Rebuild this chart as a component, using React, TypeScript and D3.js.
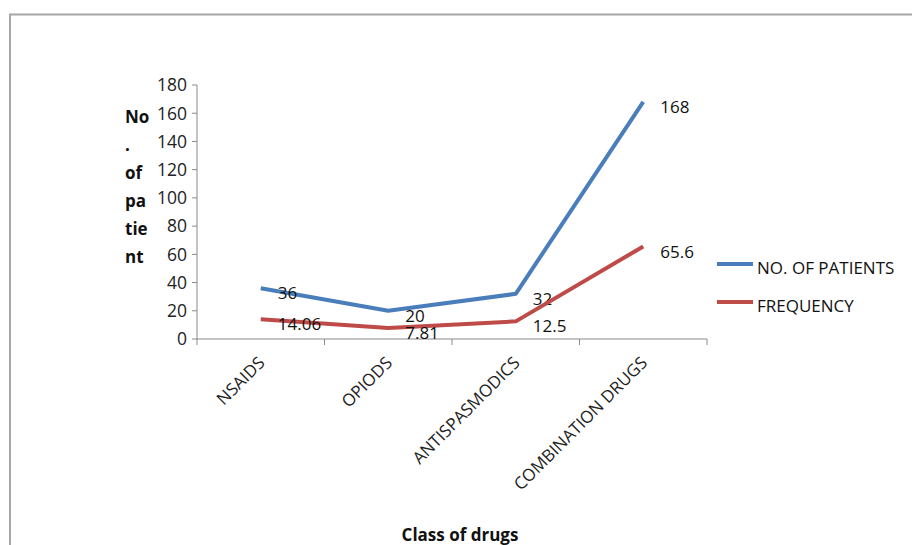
import React, { useEffect, useRef } from "react";
import * as d3 from "d3";

const categories = ["NSAIDS", "OPIODS", "ANTISPASMODICS", "COMBINATION DRUGS"];
const patients = [36, 20, 32, 168];
const frequency = [14.06, 7.81, 12.5, 65.6];
const patientLabels = ["36", "20", "32", "168"];
const frequencyLabels = ["14.06", "7.81", "12.5", "65.6"];
const yTicks = [0, 20, 40, 60, 80, 100, 120, 140, 160, 180];
const seriesNames = ["NO. OF PATIENTS", "FREQUENCY"];
const yTitleLines = ["No", ".", "of", "pa", "tie", "nt"];

const W = 912;
const H = 545;
const FONT = "'Open Sans', Lato, sans-serif";
const BLUE = "#4a7ebb";
const RED = "#be4b48";
const AXIS = "#898989";

export default function App() {
  const ref = useRef<SVGSVGElement>(null);

  useEffect(() => {
    const svg = d3.select(ref.current);
    svg.selectAll("*").remove();

    const x0 = 197, x1 = 707, yTop = 85, yBot = 339;
    const x = d3.scaleBand<string>().domain(categories).range([x0, x1]);
    const y = d3.scaleLinear().domain([0, 180]).range([yBot, yTop]);
    const cx = (c: string) => (x(c) as number) + x.bandwidth() / 2;

    // outer frame (top and left edges)
    svg.append("path")
      .attr("d", `M10,${H} L10,14.5 L${W},14.5`)
      .attr("fill", "none")
      .attr("stroke", "#a6a6a6")
      .attr("stroke-width", 2);

    // y axis
    const yAxis = svg.append("g");
    yAxis.append("line")
      .attr("x1", x0).attr("x2", x0).attr("y1", yTop).attr("y2", yBot)
      .attr("stroke", AXIS).attr("stroke-width", 1);
    yTicks.forEach((t) => {
      yAxis.append("line")
        .attr("x1", x0 - 5).attr("x2", x0).attr("y1", y(t)).attr("y2", y(t))
        .attr("stroke", AXIS);
      yAxis.append("text")
        .attr("x", x0 - 10).attr("y", y(t)).attr("dy", "0.36em")
        .attr("text-anchor", "end")
        .attr("font-family", FONT).attr("font-size", 17.5).attr("fill", "#222")
        .text(String(t));
    });

    // x axis
    const xAxis = svg.append("g");
    xAxis.append("line")
      .attr("x1", x0).attr("x2", x1).attr("y1", yBot).attr("y2", yBot)
      .attr("stroke", AXIS);
    const edges = categories.map((c) => x(c) as number).concat([x1]);
    edges.forEach((e) => {
      xAxis.append("line")
        .attr("x1", e).attr("x2", e).attr("y1", yBot).attr("y2", yBot + 6)
        .attr("stroke", AXIS);
    });
    categories.forEach((c) => {
      xAxis.append("text")
        .attr("transform", `translate(${cx(c) + 5},${yBot + 25}) rotate(-45)`)
        .attr("text-anchor", "end")
        .attr("font-family", FONT).attr("font-size", 17).attr("fill", "#222")
        .text(c);
    });

    // series lines
    const line = d3.line<number>()
      .x((_, i) => cx(categories[i]))
      .y((d) => y(d));
    [
      { data: patients, color: BLUE, labels: patientLabels },
      { data: frequency, color: RED, labels: frequencyLabels },
    ].forEach((s) => {
      svg.append("path")
        .attr("d", line(s.data) as string)
        .attr("fill", "none")
        .attr("stroke", s.color)
        .attr("stroke-width", 4)
        .attr("stroke-linejoin", "round");
      s.data.forEach((v, i) => {
        svg.append("text")
          .attr("x", cx(categories[i]) + 17)
          .attr("y", y(v) + 5)
          .attr("dy", "0.36em")
          .attr("font-family", FONT).attr("font-size", 17).attr("fill", "#111")
          .text(s.labels[i]);
      });
    });

    // legend
    const legendY = [264, 302];
    [BLUE, RED].forEach((col, i) => {
      svg.append("line")
        .attr("x1", 717).attr("x2", 753)
        .attr("y1", legendY[i]).attr("y2", legendY[i])
        .attr("stroke", col).attr("stroke-width", 4);
      svg.append("text")
        .attr("x", 757).attr("y", legendY[i] + 4).attr("dy", "0.36em")
        .attr("font-family", FONT).attr("font-size", 17).attr("fill", "#111")
        .text(seriesNames[i]);
    });

    // y axis title, stacked
    yTitleLines.forEach((t, i) => {
      svg.append("text")
        .attr("x", 125).attr("y", 117 + i * 28).attr("dy", "0.36em")
        .attr("font-family", FONT).attr("font-size", 17).attr("font-weight", "bold")
        .attr("fill", "#111")
        .text(t);
    });

    // x axis title
    svg.append("text")
      .attr("x", 460).attr("y", 535).attr("dy", "0.36em")
      .attr("text-anchor", "middle")
      .attr("font-family", FONT).attr("font-size", 17).attr("font-weight", "bold")
      .attr("fill", "#111")
      .text("Class of drugs");
  }, []);

  return (
    <svg
      ref={ref}
      width={W}
      height={H}
      style={{ position: "absolute", left: 0, top: 0, background: "#fff" }}
    />
  );
}
